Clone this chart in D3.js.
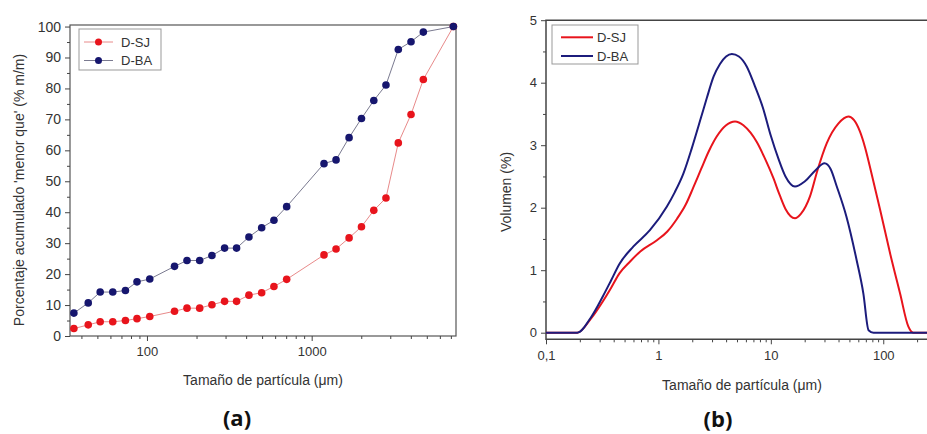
<!DOCTYPE html>
<html>
<head>
<meta charset="utf-8">
<script src="https://cdn.jsdelivr.net/npm/d3@7"></script>
<style>
  body { margin: 0; background: #fff; }
  svg text { font-family: "Liberation Sans", Arial, sans-serif; fill: #333; }
  .axis path, .axis line { stroke: #444; }
</style>
</head>
<body>
<svg id="chart" width="927" height="434"></svg>
<script>
// (a) cumulative passing, sieve sizes in um
var sizesA = [36, 44, 52, 62, 74, 87, 104, 147, 175, 209, 248, 296, 350, 416, 497, 590, 705,
              1188, 1406, 1687, 2006, 2383, 2825, 3357, 4010, 4763, 7250];
var sjA = [2.4, 3.6, 4.6, 4.6, 5.0, 5.6, 6.3, 8.0, 9.0, 9.0, 10.1, 11.2, 11.2, 13.2, 14.0, 16.0, 18.3,
           26.2, 28.1, 31.7, 35.3, 40.6, 44.6, 62.4, 71.6, 82.9, 100];
var baA = [7.4, 10.7, 14.2, 14.2, 14.7, 17.5, 18.4, 22.5, 24.4, 24.4, 26.0, 28.4, 28.4, 32.0, 35.0, 37.4, 41.8,
           55.7, 56.9, 64.1, 70.3, 76.1, 81.1, 92.6, 95.1, 98.2, 100];

// (b) volume distribution
var sizesSJ = [0.1, 0.19, 0.25, 0.32, 0.38, 0.45, 0.56, 0.69, 0.97, 1.2, 1.46, 1.75, 2.04, 2.4, 2.8, 3.3, 4.0,
               4.8, 5.7, 6.6, 7.5, 9, 10.5, 12, 13.5, 16.4, 18.5, 22.3, 26, 31.4, 40, 49, 55, 62, 69, 76,
               94, 115, 141, 167, 185, 245];
var volSJ = [0, 0, 0.22, 0.5, 0.72, 0.95, 1.14, 1.3, 1.48, 1.62, 1.82, 2.05, 2.32, 2.62, 2.9, 3.14, 3.32,
             3.38, 3.32, 3.2, 3.05, 2.76, 2.48, 2.2, 1.98, 1.83, 1.9, 2.18, 2.6, 3.03, 3.35, 3.46, 3.4, 3.22, 2.96, 2.66,
             1.96, 1.27, 0.63, 0.1, 0, 0];
var sizesBA = [0.1, 0.19, 0.25, 0.32, 0.38, 0.45, 0.6, 0.84, 1.19, 1.4, 1.67, 1.98, 2.4, 2.69, 3.1, 3.53, 4.0,
               4.5, 5.2, 6.1, 7.2, 8.5, 10, 11.7, 13.5, 16.4, 20, 25, 30, 34, 38.6, 47, 58, 66.5, 74, 82, 245];
var volBA = [0, 0, 0.24, 0.58, 0.84, 1.1, 1.38, 1.64, 2.02, 2.25, 2.55, 2.95, 3.45, 3.75, 4.1, 4.3, 4.42,
             4.46, 4.42, 4.26, 3.95, 3.6, 3.15, 2.78, 2.5, 2.34, 2.42, 2.6, 2.71, 2.62, 2.34, 1.86, 1.16, 0.63, 0.04, 0, 0];

var seriesNames = ["D-SJ", "D-BA"];
var red = "#e8141c", navy = "#16166e";

var svg = d3.select("#chart");

// ---------- panel (a) ----------
var xa = d3.scaleLog().domain([34.1, 7520]).range([70, 456]);
var ya = d3.scaleLinear().domain([0, 100.5]).range([336, 25]);

var ga = svg.append("g");
ga.append("rect").attr("x", 70).attr("y", 25).attr("width", 386).attr("height", 311)
  .attr("fill", "none").attr("stroke", "#555").attr("stroke-width", 1.2);

var minorA = [40, 50, 60, 70, 80, 90, 200, 300, 400, 500, 600, 700, 800, 900, 2000, 3000, 4000, 5000, 6000, 7000];
ga.append("g").attr("class", "axis").attr("transform", "translate(0,336)")
  .call(d3.axisBottom(xa).tickValues([100, 1000]).tickFormat(d3.format("d")).tickSize(5).tickPadding(6))
  .call(function(g) { g.select(".domain").remove(); g.selectAll("text").style("font-size", "13px"); });
ga.append("g").attr("class", "axis").attr("transform", "translate(0,336)")
  .call(d3.axisBottom(xa).tickValues(minorA).tickFormat("").tickSize(3))
  .call(function(g) { g.select(".domain").remove(); });
ga.append("g").attr("class", "axis").attr("transform", "translate(70,0)")
  .call(d3.axisLeft(ya).tickValues(d3.range(0, 101, 10)).tickSize(5).tickPadding(4))
  .call(function(g) { g.select(".domain").remove(); g.selectAll("text").style("font-size", "14px"); });
ga.append("g").attr("class", "axis").attr("transform", "translate(70,0)")
  .call(d3.axisLeft(ya).tickValues(d3.range(5, 100, 10)).tickFormat("").tickSize(3))
  .call(function(g) { g.select(".domain").remove(); });

var lineA = d3.line().x(function(d) { return xa(d[0]); }).y(function(d) { return ya(d[1]); });
[[sjA, red, "#e88a8a"], [baA, navy, "#7a7a90"]].forEach(function(s) {
  var pts = sizesA.map(function(x, i) { return [x, s[0][i]]; });
  ga.append("path").attr("d", lineA(pts)).attr("fill", "none").attr("stroke", s[2]).attr("stroke-width", 1);
  ga.selectAll(null).data(pts).enter().append("circle")
    .attr("cx", function(d) { return xa(d[0]); }).attr("cy", function(d) { return ya(d[1]); })
    .attr("r", 3.8).attr("fill", s[1]);
});

ga.append("text").attr("x", 263).attr("y", 385).attr("text-anchor", "middle")
  .style("font-size", "14px").text("Tamaño de partícula (μm)");
ga.append("text").attr("transform", "translate(24,190) rotate(-90)").attr("text-anchor", "middle")
  .style("font-size", "14px").text("Porcentaje acumulado 'menor que' (% m/m)");

// legend (a)
ga.append("rect").attr("x", 79).attr("y", 29).attr("width", 82).attr("height", 41)
  .attr("fill", "#fff").attr("stroke", "#999").attr("stroke-width", 1);
seriesNames.forEach(function(n, i) {
  var yy = 42 + i * 18.5;
  ga.append("line").attr("x1", 84).attr("x2", 113).attr("y1", yy).attr("y2", yy)
    .attr("stroke", i ? "#7a7a90" : "#e88a8a").attr("stroke-width", 1);
  ga.append("circle").attr("cx", 98.5).attr("cy", yy).attr("r", 3.5).attr("fill", i ? navy : red);
  ga.append("text").attr("x", 121).attr("y", yy + 4.5).style("font-size", "13px").text(n);
});

svg.append("text").attr("x", 237).attr("y", 426).attr("text-anchor", "middle")
  .style("font-family", "'Open Sans', sans-serif").style("font-weight", "bold")
  .style("font-size", "22px").style("fill", "#111").text("(a)");

// ---------- panel (b) ----------
var xb = d3.scaleLog().domain([0.1, 245]).range([546, 927]);
var yb = d3.scaleLinear().domain([-0.1056, 5]).range([339.3, 20.2]);

var gb = svg.append("g");
gb.append("path").attr("d", "M929,20.2H546V339.3H929").attr("fill", "none")
  .attr("stroke", "#444").attr("stroke-width", 1.5);

var minorB = [];
[0.1, 1, 10, 100].forEach(function(dec) {
  for (var k = 2; k <= 9; k++) if (dec * k <= 245) minorB.push(dec * k);
});
gb.append("g").attr("class", "axis").attr("transform", "translate(0,339.3)")
  .call(d3.axisBottom(xb).tickValues([0.1, 1, 10, 100])
    .tickFormat(function(d) { return d < 1 ? "0,1" : d3.format("d")(d); }).tickSize(5).tickPadding(6))
  .call(function(g) { g.select(".domain").remove(); g.selectAll("text").style("font-size", "13px"); });
gb.append("g").attr("class", "axis").attr("transform", "translate(0,339.3)")
  .call(d3.axisBottom(xb).tickValues(minorB).tickFormat("").tickSize(3))
  .call(function(g) { g.select(".domain").remove(); });
gb.append("g").attr("class", "axis").attr("transform", "translate(546,0)")
  .call(d3.axisLeft(yb).tickValues(d3.range(0, 6)).tickFormat(d3.format("d")).tickSize(5).tickPadding(4))
  .call(function(g) { g.select(".domain").remove(); g.selectAll("text").style("font-size", "13px"); });
gb.append("g").attr("class", "axis").attr("transform", "translate(546,0)")
  .call(d3.axisLeft(yb).tickValues([0.5, 1.5, 2.5, 3.5, 4.5]).tickFormat("").tickSize(3))
  .call(function(g) { g.select(".domain").remove(); });

var lineB = d3.line().curve(d3.curveMonotoneX)
  .x(function(d) { return xb(d[0]); }).y(function(d) { return yb(d[1]); });
gb.append("path").attr("d", lineB(sizesSJ.map(function(x, i) { return [x, volSJ[i]]; })))
  .attr("fill", "none").attr("stroke", red).attr("stroke-width", 2);
gb.append("path").attr("d", lineB(sizesBA.map(function(x, i) { return [x, volBA[i]]; })))
  .attr("fill", "none").attr("stroke", "#1c1c7c").attr("stroke-width", 2);

gb.append("text").attr("x", 742).attr("y", 390).attr("text-anchor", "middle")
  .style("font-size", "14px").text("Tamaño de partícula (μm)");
gb.append("text").attr("transform", "translate(511,192) rotate(-90)").attr("text-anchor", "middle")
  .style("font-size", "14px").text("Volumen (%)");

// legend (b)
gb.append("rect").attr("x", 552).attr("y", 25).attr("width", 86).attr("height", 39)
  .attr("fill", "#fff").attr("stroke", "#999").attr("stroke-width", 1);
seriesNames.forEach(function(n, i) {
  var yy = 37.3 + i * 18.7;
  gb.append("line").attr("x1", 561).attr("x2", 593).attr("y1", yy).attr("y2", yy)
    .attr("stroke", i ? "#1c1c7c" : red).attr("stroke-width", 2);
  gb.append("text").attr("x", 597).attr("y", yy + 4.5).style("font-size", "13px").text(n);
});

svg.append("text").attr("x", 718).attr("y", 427).attr("text-anchor", "middle")
  .style("font-family", "'Open Sans', sans-serif").style("font-weight", "bold")
  .style("font-size", "22px").style("fill", "#111").text("(b)");
</script>
</body>
</html>
